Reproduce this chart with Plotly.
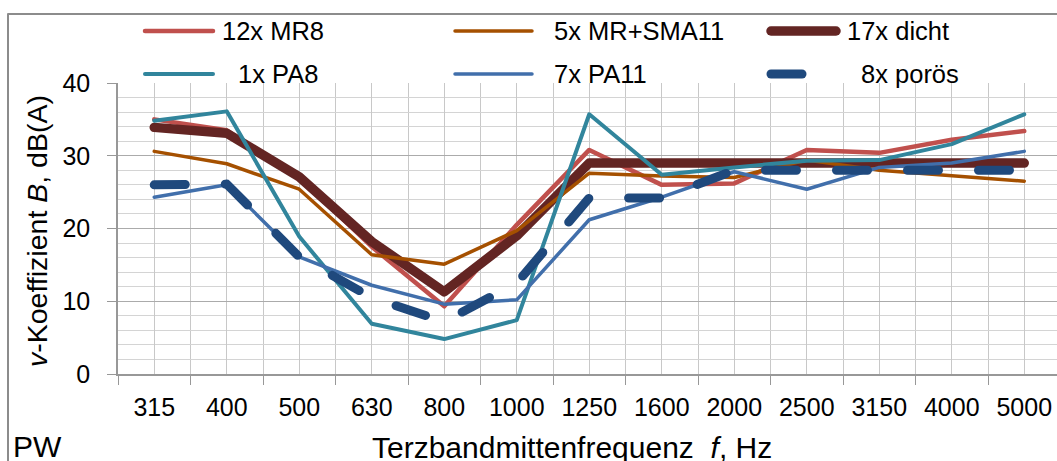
import plotly.graph_objects as go

# ---------------- data ----------------
freqs = ["315", "400", "500", "630", "800", "1000", "1250", "1600", "2000", "2500", "3150", "4000", "5000"]
mr8 = [35.0, 33.5, 27.0, 17.5, 9.3, 20.5, 30.8, 26.0, 26.2, 30.8, 30.4, 32.2, 33.4]
sma11 = [30.6, 28.9, 25.4, 16.4, 15.1, 19.7, 27.6, 27.2, 27.0, 29.4, 28.0, 27.2, 26.5]
dicht = [33.9, 33.1, 27.1, 18.2, 11.3, 19.0, 29.0, 29.0, 29.0, 29.0, 29.0, 29.0, 29.0]
pa8 = [34.8, 36.1, 18.9, 6.9, 4.8, 7.4, 35.7, 27.4, 28.4, 29.3, 29.4, 31.6, 35.7]
pa11 = [24.3, 26.0, 16.1, 12.2, 9.6, 10.2, 21.2, 24.3, 27.8, 25.4, 28.4, 29.0, 30.6]
poros = [26.0, 26.1, 16.1, 10.5, 7.2, 12.5, 24.2, 24.2, 28.0, 28.0, 28.0, 28.0, 28.0]

names = ["12x MR8", "5x MR+SMA11", "17x dicht", "1x PA8", "7x PA11", "8x porös"]
colors = ["#C0504D", "#A55000", "#632523", "#31859C", "#416FAB", "#1F497D"]

# ---------------- geometry ----------------
W, H = 1057, 461
L, R, T, B = 118, 1057, 83, 374
UNIT = 72.5  # px per category


def px(xp):
    return (xp - L) / (R - L)


def py(yp):
    return (B - yp) / (B - T)


FONT = "Liberation Sans, Arial, sans-serif"
xs = list(range(len(freqs)))

fig = go.Figure()
series = [
    (mr8, names[0], colors[0], 4.5, "solid"),
    (dicht, names[2], colors[2], 9.5, "solid"),
    (sma11, names[1], colors[1], 3.5, "solid"),
    (pa8, names[3], colors[3], 4.0, "solid"),
    (pa11, names[4], colors[4], 3.5, "solid"),
    (poros, names[5], colors[5], 9.0, "31px,40px"),
]
for vals, nm, col, w, dash in series:
    fig.add_trace(go.Scatter(x=xs, y=vals, name=nm, mode="lines",
                             line=dict(color=col, width=w, dash=dash),
                             showlegend=False))

fig.update_layout(
    width=W, height=H,
    margin=dict(l=L, r=W - R, t=T, b=H - B),
    paper_bgcolor="white", plot_bgcolor="white",
    font=dict(family=FONT, color="#000000"),
    showlegend=False,
)
fig.update_xaxes(
    range=[-0.5, -0.5 + (R - L) / UNIT],
    tickmode="array", tickvals=xs, ticktext=freqs,
    ticks="", showgrid=True, gridcolor="#C8C8C8", gridwidth=1,
    tickfont=dict(size=25, family=FONT, color="#000"),
    ticklabelstandoff=10,
    minor=dict(tick0=-0.5, dtick=1, ticks="outside", ticklen=9, tickcolor="#989898",
               tickwidth=1, showgrid=True, gridcolor="#C8C8C8", gridwidth=1),
    showline=True, linecolor="#989898", linewidth=1.5, zeroline=False,
)
fig.update_yaxes(
    range=[0, 40], dtick=10, tick0=0,
    ticks="outside", ticklen=9, tickcolor="#989898", tickwidth=1,
    showgrid=True, gridcolor="#ABABAB", gridwidth=1,
    tickfont=dict(size=25, family=FONT, color="#000"),
    ticklabelstandoff=12,
    minor=dict(dtick=2, tick0=0, ticks="", showgrid=True, gridcolor="#D4D4D4", gridwidth=1),
    showline=True, linecolor="#989898", linewidth=1.5, zeroline=False,
)

shapes = []
annotations = []
# outer chart border
shapes.append(dict(type="rect", xref="paper", yref="paper",
                   x0=px(8), x1=px(1080), y0=py(500), y1=py(14),
                   line=dict(color="#8C8C8C", width=2), fillcolor="rgba(0,0,0,0)", layer="above"))

# custom legend (two rows, three columns)
leg = [
    # name, color, width, x0, x1, y, text x
    (names[0], colors[0], 4.5, 145, 213, 31, 220),
    (names[1], colors[1], 3.5, 455, 532, 31, 552),
    (names[2], colors[2], 9.5, 771, 836, 31, 845),
    (names[3], colors[3], 4.0, 145, 213, 74, 236),
    (names[4], colors[4], 3.5, 455, 532, 74, 552),
    (names[5], colors[5], 9.0, 771, 802, 74, 859),
]
for nm, col, w, x0, x1, yy, tx in leg:
    shapes.append(dict(type="line", xref="paper", yref="paper",
                       x0=px(x0), x1=px(x1), y0=py(yy), y1=py(yy),
                       line=dict(color=col, width=w)))
    annotations.append(dict(text=nm, xref="paper", yref="paper", x=px(tx), y=py(yy),
                            xanchor="left", yanchor="middle", showarrow=False,
                            font=dict(size=25.5, family=FONT, color="#000")))

# axis titles and label
annotations.append(dict(text="<i>v</i>-Koeffizient <i>B</i>, dB(A)", textangle=-90,
                        xref="paper", yref="paper", x=px(37), y=py(231),
                        xanchor="center", yanchor="middle", showarrow=False,
                        font=dict(size=28.5, family=FONT, color="#000")))
annotations.append(dict(text="Terzbandmittenfrequenz\u00a0\u00a0<i>f</i>, Hz",
                        xref="paper", yref="paper", x=px(572), y=py(447),
                        xanchor="center", yanchor="middle", showarrow=False,
                        font=dict(size=30, family=FONT, color="#000")))
annotations.append(dict(text="PW", xref="paper", yref="paper", x=px(11), y=py(446),
                        xanchor="left", yanchor="middle", showarrow=False,
                        font=dict(size=30, family=FONT, color="#000")))

fig.update_layout(shapes=shapes, annotations=annotations)

post = """
document.body.style.margin='0';
document.body.style.overflow='hidden';
document.querySelectorAll('.scatterlayer path.js-line, .shapelayer path').forEach(function(p){
  p.style.strokeLinecap='round'; p.style.strokeLinejoin='round';
});
"""
fig.write_html("out.html", post_script=post, config={"displayModeBar": False})
